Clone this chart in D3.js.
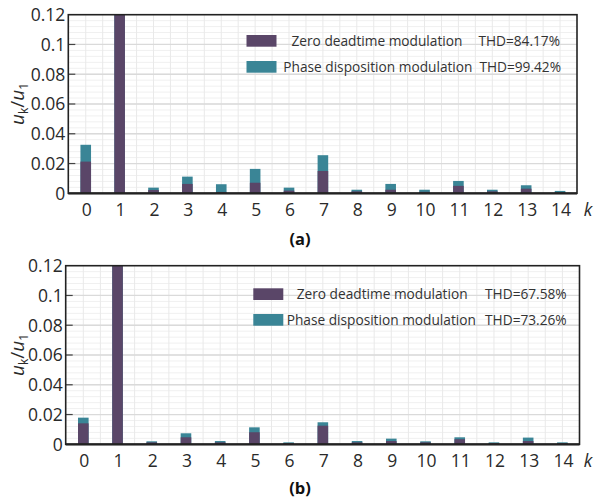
<!DOCTYPE html>
<html><head><meta charset="utf-8">
<script src="https://cdn.jsdelivr.net/npm/d3@7/dist/d3.min.js"></script>
<style>body{margin:0;background:#fff} svg{display:block} text{font-family:"Open Sans",sans-serif}</style>
</head><body>
<svg id="c" width="596" height="499"></svg>
<script>
const harmonicOrders = [0,1,2,3,4,5,6,7,8,9,10,11,12,13,14];
const xTickLabels = ["0","1","2","3","4","5","6","7","8","9","10","11","12","13","14"];
const yTicks = [0,0.02,0.04,0.06,0.08,0.1,0.12];
const yTickLabels = ["0","0.02","0.04","0.06","0.08","0.1","0.12"];
const seriesNames = ["Zero deadtime modulation","Phase disposition modulation"];
const zeroDeadtimeA = [0.0213,1,0.0022,0.0063,0.0009,0.0071,0.0018,0.0150,0.0013,0.0024,0.0010,0.0050,0.0013,0.0031,0.0007];
const phaseDispositionA = [0.0326,1,0.0038,0.0112,0.0061,0.0164,0.0038,0.0256,0.0024,0.0063,0.0024,0.0083,0.0024,0.0054,0.0016];
const thdA = ["THD=84.17%","THD=99.42%"];
const zeroDeadtimeB = [0.0141,1,0.0013,0.0047,0.0013,0.0081,0.0008,0.0125,0.0013,0.0022,0.0013,0.0034,0.0008,0.0022,0.0008];
const phaseDispositionB = [0.0179,1,0.0020,0.0074,0.0022,0.0114,0.0013,0.0148,0.0022,0.0038,0.0020,0.0047,0.0013,0.0045,0.0013];
const thdB = ["THD=67.58%","THD=73.26%"];
const panelLabels = ["(a)","(b)"];

const colors = ["#5a4668","#3a8596"];
const svg = d3.select("#c");

const panels = [
  {zero: zeroDeadtimeA, phase: phaseDispositionA, thd: thdA, label: panelLabels[0],
   l: 68.3, r: 577, t: 14.7, b: 193.3,
   lg: {sx: 246.5, sy: [35, 61], tx: [291.5, 283.3], tEnd: [560, 561]}, lblY: 239},
  {zero: zeroDeadtimeB, phase: phaseDispositionB, thd: thdB, label: panelLabels[1],
   l: 65.7, r: 579.5, t: 265.7, b: 444.3,
   lg: {sx: 253.3, sy: [288.3, 314], tx: [296.7, 286.7], tEnd: [566.7, 566.7]}, lblY: 488}
];

panels.forEach((p, pi) => {
  const g = svg.append("g");
  const x = d3.scaleBand().domain(harmonicOrders).range([p.l + 0.5, p.r]).padding(0);
  const y = d3.scaleLinear().domain([0, 0.12]).range([p.b, p.t]);
  const step = x.step();

  const minor = d3.range(0, 0.12 + 1e-9, 0.004);
  g.selectAll(".mh").data(minor).join("line")
    .attr("x1", p.l).attr("x2", p.r)
    .attr("y1", d => y(d)).attr("y2", d => y(d))
    .attr("stroke", "#f0f0f0").attr("stroke-width", 1);
  const vpos = [];
  harmonicOrders.forEach(k => { vpos.push(x(k) + step / 2); if (k > 0) vpos.push(x(k)); });
  g.selectAll(".vg").data(vpos).join("line")
    .attr("x1", d => d).attr("x2", d => d)
    .attr("y1", p.t).attr("y2", p.b)
    .attr("stroke", "#e9e9e9").attr("stroke-width", 1);
  g.selectAll(".mj").data(yTicks.slice(1, -1)).join("line")
    .attr("x1", p.l).attr("x2", p.r)
    .attr("y1", d => y(d)).attr("y2", d => y(d))
    .attr("stroke", "#dadada").attr("stroke-width", 1.3);

  const clipId = "clip" + pi;
  g.append("clipPath").attr("id", clipId).append("rect")
    .attr("x", p.l).attr("y", p.t).attr("width", p.r - p.l).attr("height", p.b - p.t);
  const bw = 10.6;
  const bars = g.append("g").attr("clip-path", `url(#${clipId})`);
  bars.selectAll(".ph").data(harmonicOrders).join("rect")
    .attr("x", k => x(k) + step / 2 - bw / 2).attr("width", bw)
    .attr("y", k => y(p.phase[k])).attr("height", k => y(0) - y(p.phase[k]))
    .attr("fill", colors[1]);
  bars.selectAll(".zd").data(harmonicOrders).join("rect")
    .attr("x", k => x(k) + step / 2 - bw / 2).attr("width", bw)
    .attr("y", k => y(p.zero[k])).attr("height", k => y(0) - y(p.zero[k]))
    .attr("fill", colors[0]);

  g.selectAll(".yt").data(yTicks.slice(1, -1)).join("line")
    .attr("x1", p.l).attr("x2", p.l + 7)
    .attr("y1", d => y(d)).attr("y2", d => y(d))
    .attr("stroke", "#444").attr("stroke-width", 1.2);

  g.append("rect").attr("x", p.l).attr("y", p.t).attr("width", p.r - p.l).attr("height", p.b - p.t)
    .attr("fill", "none").attr("stroke", "#222").attr("stroke-width", 1.6);
  g.append("line").attr("x1", p.l).attr("x2", p.r).attr("y1", p.b).attr("y2", p.b)
    .attr("stroke", "#222").attr("stroke-width", 2.2);

  g.selectAll(".yl").data(yTicks).join("text")
    .attr("x", p.l - 3).attr("y", d => y(d)).attr("dy", "0.36em")
    .attr("text-anchor", "end").attr("font-size", 17.5).attr("fill", "#2a2a2a")
    .text((d, i) => yTickLabels[i]);
  g.selectAll(".xl").data(harmonicOrders).join("text")
    .attr("x", k => x(k) + step / 2 + 1).attr("y", p.b + 16).attr("dy", "0.36em")
    .attr("text-anchor", "middle").attr("font-size", 17.5).attr("fill", "#2a2a2a")
    .text((k, i) => xTickLabels[i]);
  g.append("text").attr("x", 588).attr("y", p.b + 16).attr("dy", "0.36em")
    .attr("text-anchor", "middle").attr("font-size", 17.5).attr("font-style", "italic").attr("fill", "#2a2a2a")
    .text("k");

  const yt = g.append("text")
    .attr("transform", `translate(24,${(p.t + p.b) / 2}) rotate(-90)`)
    .attr("text-anchor", "middle").attr("font-size", 19).attr("fill", "#2a2a2a");
  yt.append("tspan").attr("font-style", "italic").text("u");
  yt.append("tspan").attr("font-size", 12).attr("dy", 4).text("k");
  yt.append("tspan").attr("dy", -4).text("/");
  yt.append("tspan").attr("font-style", "italic").text("u");
  yt.append("tspan").attr("font-size", 12).attr("dy", 4).text("1");

  [0, 1].forEach(i => {
    g.append("rect").attr("x", p.lg.sx).attr("y", p.lg.sy[i]).attr("width", 30).attr("height", 11.7)
      .attr("fill", colors[i]);
    const cy = p.lg.sy[i] + 5.85;
    g.append("text").attr("x", p.lg.tx[i]).attr("y", cy).attr("dy", "0.36em")
      .attr("font-size", 13.7).attr("fill", "#333").text(seriesNames[i]);
    g.append("text").attr("x", p.lg.tEnd[i]).attr("y", cy).attr("dy", "0.36em")
      .attr("text-anchor", "end").attr("font-size", 13.7).attr("fill", "#333").text(p.thd[i]);
  });

  g.append("text").attr("x", 300).attr("y", p.lblY).attr("dy", "0.36em")
    .attr("text-anchor", "middle").attr("font-size", 16.5).attr("font-weight", "bold").attr("fill", "#111")
    .text(p.label);
});
</script>
</body></html>
